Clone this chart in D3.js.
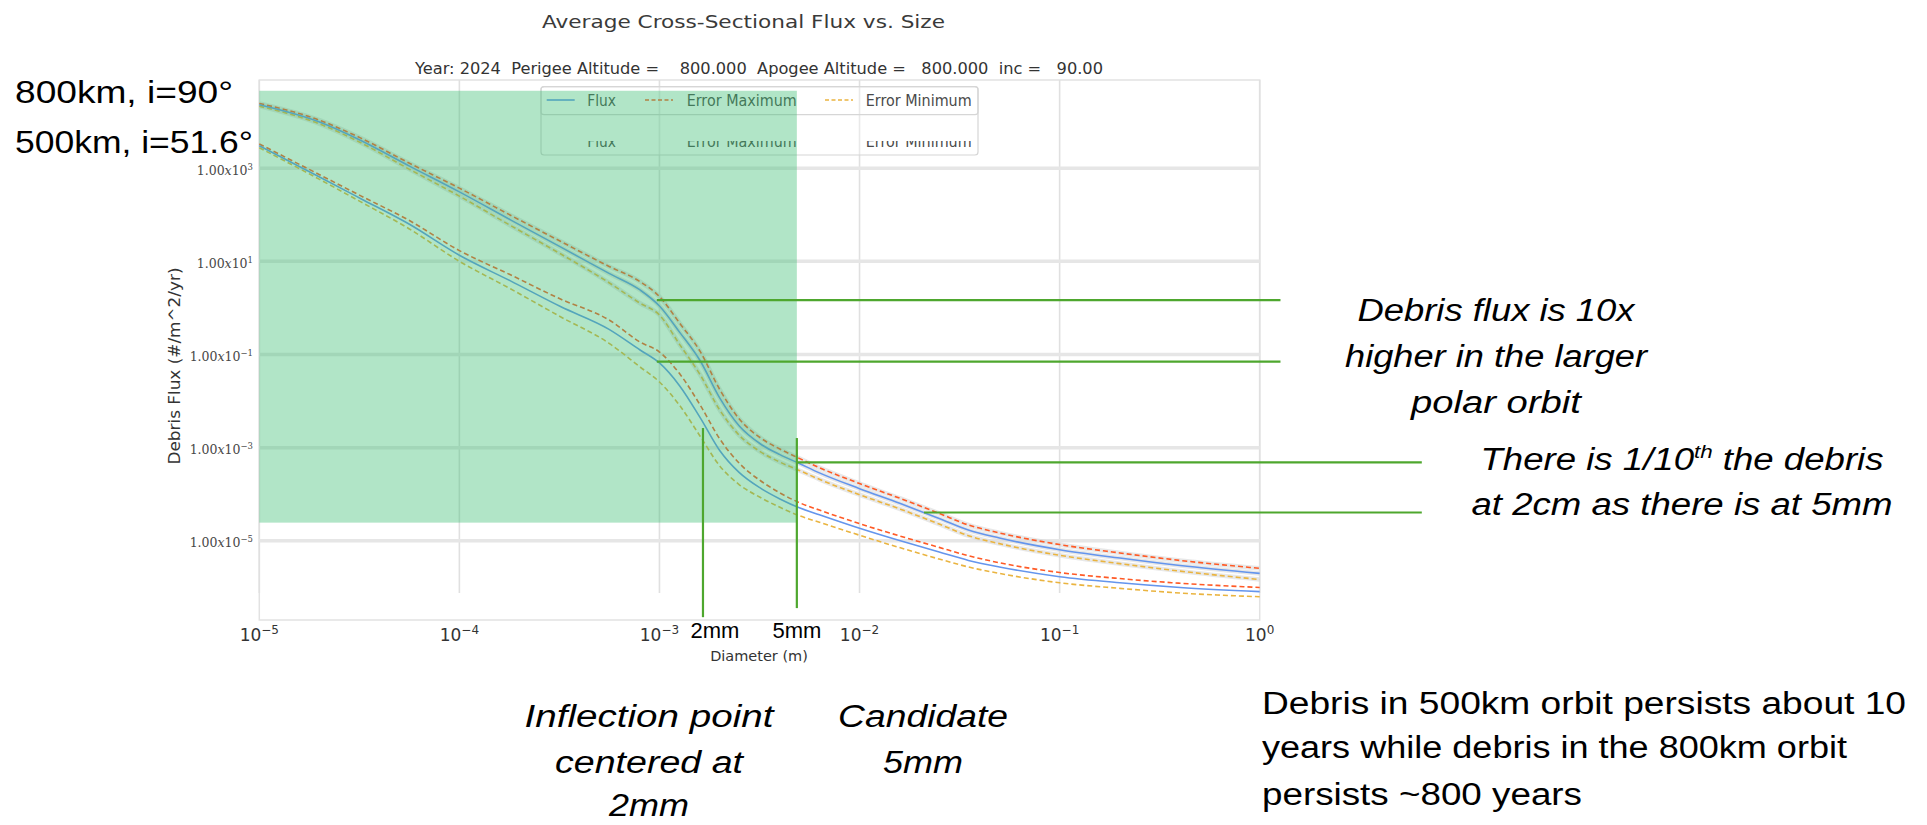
<!DOCTYPE html>
<html>
<head>
<meta charset="utf-8">
<script src="https://cdn.jsdelivr.net/npm/d3@7"></script>
<style>
  body { margin: 0; background: #fff; overflow: hidden; }
  text { white-space: pre; }
</style>
</head>
<body>
<div id="chart"></div>
<script>
// Diameters (m) and the flux (#/m^2/yr)
const diameters = [1.0e-5, 2.0e-5, 3.2e-5, 5.6e-5, 1.0e-4, 1.8e-4, 3.2e-4, 5.6e-4, 8.0e-4, 1.0e-3, 1.26e-3, 1.6e-3, 2.0e-3, 2.5e-3,
    3.2e-3, 4.0e-3, 5.0e-3, 6.3e-3, 1.0e-2, 1.6e-2, 2.5e-2, 3.5e-2, 5.0e-2, 1.0e-1, 2.0e-1, 4.0e-1, 1.0]

// 800km, i=90
const flux800 = [2.29e4, 9.77e3, 3.98e3, 1.12e3, 309, 77.6, 20.4, 5.5, 2.43, 1.10, 0.302, 0.0724, 0.0117, 2.95e-3,
    1.2e-3, 7.08e-4, 4.57e-4, 2.88e-4, 1.32e-4, 6.31e-5, 3.02e-5, 1.70e-5, 1.15e-5, 6.46e-6, 4.27e-6, 2.95e-6, 2.0e-6]
const errMax800 = [2.45e4, 1.07e4, 4.47e3, 1.29e3, 372, 97.7, 26.9, 7.76, 3.66, 1.75, 0.474, 0.115, 0.0178, 4.17e-3,
    1.62e-3, 9.33e-4, 5.89e-4, 3.72e-4, 1.70e-4, 8.13e-5, 3.89e-5, 2.19e-5, 1.48e-5, 8.32e-6, 5.50e-6, 3.80e-6, 2.57e-6]
const errMin800 = [2.14e4, 8.91e3, 3.55e3, 955, 251, 58.9, 14.5, 3.47, 1.26, 0.705, 0.165, 0.0363, 6.46e-3, 1.86e-3,
    8.13e-4, 4.90e-4, 3.24e-4, 2.09e-4, 9.77e-5, 4.79e-5, 2.29e-5, 1.29e-5, 8.71e-6, 4.90e-6, 3.24e-6, 2.24e-6, 1.48e-6]

// 500km, i=51.6
const flux500 = [3.02e3, 646, 224, 63.1, 13.5, 3.80, 1.07, 0.347, 0.125, 0.0658, 0.0214, 4.37e-3, 8.71e-4, 2.95e-4,
    1.35e-4, 7.94e-5, 5.13e-5, 3.63e-5, 1.86e-5, 1.0e-5, 5.75e-6, 3.80e-6, 2.75e-6, 1.70e-6, 1.26e-6, 1.0e-6, 8.13e-7]
const errMax500 = [3.31e3, 724, 257, 75.9, 17.0, 5.13, 1.55, 0.550, 0.185, 0.113, 0.0389, 8.13e-3, 1.55e-3, 4.68e-4,
    1.95e-4, 1.07e-4, 6.61e-5, 4.57e-5, 2.34e-5, 1.26e-5, 7.24e-6, 4.79e-6, 3.39e-6, 2.09e-6, 1.55e-6, 1.23e-6, 1.0e-6]
const errMin500 = [2.75e3, 575, 191, 50.1, 10.0, 2.57, 0.646, 0.174, 0.054, 0.0257, 8.13e-3, 1.74e-3, 4.07e-4, 1.62e-4,
    8.51e-5, 5.25e-5, 3.47e-5, 2.51e-5, 1.32e-5, 7.08e-6, 4.07e-6, 2.75e-6, 2.0e-6, 1.26e-6, 9.55e-7, 7.59e-7, 6.31e-7]

const xTicks = [1e-5, 1e-4, 1e-3, 1e-2, 1e-1, 1]
const xTickExp = ["\u22125", "\u22124", "\u22123", "\u22122", "\u22121", "0"]
const yTicks = [1e3, 1e1, 1e-1, 1e-3, 1e-5]
const yTickExp = ["3", "1", "\u22121", "\u22123", "\u22125"]

const legendNames = ["Flux", "Error Maximum", "Error Minimum"]

// annotations (data coordinates)
const shade = { x0: 1e-5, x1: 4.86e-3, y0: 2.46e-5, y1: 4.58e4 }
const annoH = [
    { x0: 9.7e-4, x1: 1.27, y: 1.47 },
    { x0: 9.7e-4, x1: 1.27, y: 0.0705 },
    { x0: 4.86e-3, x1: 6.46, y: 4.84e-4 },
    { x0: 2.1e-2, x1: 6.46, y: 4.06e-5 }
]
const annoV = [
    { x: 1.65e-3, y0: 2.64e-3, y1: 2.3e-7 },
    { x: 4.86e-3, y0: 1.61e-3, y1: 3.6e-7 }
]

const W = 1927, H = 825
const plot = { left: 259.3, right: 1259.7, top: 80, bottom: 620 }

const svg = d3.select("#chart").append("svg")
    .attr("width", W)
    .attr("height", H)
    .style("background", "#fff")

const x = d3.scaleLog().domain([1e-5, 1]).range([plot.left, plot.right])
const y = d3.scaleLog().domain([2.0e-7, 7.8e4]).range([plot.bottom, plot.top])

const chartFont = "'DejaVu Sans', sans-serif"
const slideFont = "'Liberation Sans', Arial, sans-serif"

// frame + grid
svg.append("rect")
    .attr("x", plot.left).attr("y", plot.top)
    .attr("width", plot.right - plot.left).attr("height", plot.bottom - plot.top)
    .attr("fill", "none").attr("stroke", "#e2e2e2").attr("stroke-width", 1.5)

svg.selectAll(".vgrid").data(xTicks).join("line")
    .attr("class", "vgrid")
    .attr("x1", function (d) { return x(d) }).attr("x2", function (d) { return x(d) })
    .attr("y1", plot.top).attr("y2", 593)
    .attr("stroke", "#e0e0e0").attr("stroke-width", 1.6)

svg.selectAll(".hgrid").data(yTicks).join("line")
    .attr("class", "hgrid")
    .attr("x1", plot.left).attr("x2", plot.right)
    .attr("y1", function (d) { return y(d) }).attr("y2", function (d) { return y(d) })
    .attr("stroke", "#e6e6e6").attr("stroke-width", 3.5)

// tick labels
const yLab = svg.selectAll(".ylab").data(yTicks).join("text")
    .attr("class", "ylab")
    .attr("x", 253)
    .attr("y", function (d) { return y(d) + 6.5 })
    .attr("text-anchor", "end")
    .style("font-family", "'DejaVu Serif', serif")
    .style("font-size", "12.5px")
    .style("fill", "#484848")
yLab.append("tspan").text("1.00")
yLab.append("tspan").style("font-style", "italic").text("x")
yLab.append("tspan").text("10")
yLab.append("tspan").attr("dy", -5).style("font-size", "8.5px").text(function (d, i) { return yTickExp[i] })

const xLab = svg.selectAll(".xlab").data(xTicks).join("text")
    .attr("class", "xlab")
    .attr("x", function (d) { return x(d) })
    .attr("y", 641)
    .attr("text-anchor", "middle")
    .style("font-family", chartFont)
    .style("fill", "#333")
xLab.append("tspan").style("font-size", "17px").text("10")
xLab.append("tspan").attr("dy", -7).style("font-size", "12px").text(function (d, i) { return xTickExp[i] })

svg.append("text")
    .attr("x", 759).attr("y", 661)
    .attr("text-anchor", "middle")
    .style("font-family", chartFont).style("font-size", "14.5px").style("fill", "#333")
    .text("Diameter (m)")

svg.append("text")
    .attr("transform", "translate(180,366) rotate(-90)")
    .attr("text-anchor", "middle")
    .style("font-family", chartFont).style("font-size", "15px").style("fill", "#333")
    .attr("textLength", 197).attr("lengthAdjust", "spacingAndGlyphs")
    .text("Debris Flux (#/m^2/yr)")

svg.append("text")
    .attr("x", 743.5).attr("y", 28)
    .attr("text-anchor", "middle")
    .style("font-family", chartFont).style("font-size", "18.5px").style("fill", "#3a3a3a")
    .attr("textLength", 403).attr("lengthAdjust", "spacingAndGlyphs")
    .text("Average Cross-Sectional Flux vs. Size")

svg.append("text")
    .attr("x", 415).attr("y", 74)
    .style("font-family", chartFont).style("font-size", "16px").style("fill", "#333")
    .attr("textLength", 688).attr("lengthAdjust", "spacingAndGlyphs")
    .text("Year: 2024  Perigee Altitude =    800.000  Apogee Altitude =   800.000  inc =   90.00")

// curves
const styles = {
    "Flux": { color: "#6495ed", dash: null },
    "Error Maximum": { color: "#ff5a26", dash: "5,3" },
    "Error Minimum": { color: "#eab440", dash: "5,3" }
}

const series = [
    { name: "Error Minimum", orbit: 800, values: errMin800 },
    { name: "Error Maximum", orbit: 800, values: errMax800 },
    { name: "Flux", orbit: 800, values: flux800 },
    { name: "Error Minimum", orbit: 500, values: errMin500 },
    { name: "Error Maximum", orbit: 500, values: errMax500 },
    { name: "Flux", orbit: 500, values: flux500 }
]

const line = d3.line()
    .x(function (d, i) { return x(diameters[i]) })
    .y(function (d) { return y(d) })
    .curve(d3.curveMonotoneX)

// light halo on the 800km lines
svg.selectAll(".halo").data(series.filter(function (s) { return s.orbit === 800 })).join("path")
    .attr("class", "halo")
    .attr("d", function (s) { return line(s.values) })
    .attr("fill", "none")
    .attr("stroke", "#d9d9d9").attr("stroke-width", 4.5).attr("opacity", 0.6)

svg.selectAll(".series").data(series).join("path")
    .attr("class", "series")
    .attr("d", function (s) { return line(s.values) })
    .attr("fill", "none")
    .attr("stroke", function (s) { return styles[s.name].color })
    .attr("stroke-width", 1.6)
    .attr("stroke-dasharray", function (s) { return styles[s.name].dash })

// legend
const legX = [546.7, 645, 825]
const legTextX = [587.3, 686.7, 865.7]
const legTextW = [28.7, 110, 106]
const legend = svg.append("g")

legend.append("rect")
    .attr("x", 541).attr("y", 86.7).attr("width", 437).attr("height", 68.3).attr("rx", 3)
    .attr("fill", "#fff").attr("fill-opacity", 0.3).attr("stroke", "#d6d6d6").attr("stroke-width", 1.2)
legend.append("rect")
    .attr("x", 541).attr("y", 86.7).attr("width", 437).attr("height", 28).attr("rx", 3)
    .attr("fill", "none").attr("stroke", "#d6d6d6").attr("stroke-width", 1.2)

legend.selectAll(".legline").data(legendNames).join("line")
    .attr("x1", function (d, i) { return legX[i] })
    .attr("x2", function (d, i) { return legX[i] + 28 })
    .attr("y1", 100).attr("y2", 100)
    .attr("stroke", function (d) { return styles[d].color })
    .attr("stroke-width", 1.6)
    .attr("stroke-dasharray", function (d) { return styles[d].dash ? "4,2.5" : null })

legend.selectAll(".legtext").data(legendNames).join("text")
    .attr("x", function (d, i) { return legTextX[i] })
    .attr("y", 105.5)
    .style("font-family", chartFont).style("font-size", "15px").style("fill", "#4a4a4a")
    .attr("textLength", function (d, i) { return legTextW[i] }).attr("lengthAdjust", "spacingAndGlyphs")
    .text(function (d) { return d })

// ghost row, only its lower part shows
svg.append("clipPath").attr("id", "ghostclip")
    .append("rect").attr("x", 541).attr("y", 141).attr("width", 437).attr("height", 14)

legend.append("g").attr("clip-path", "url(#ghostclip)")
    .selectAll("text").data(legendNames).join("text")
    .attr("x", function (d, i) { return legTextX[i] })
    .attr("y", 147)
    .style("font-family", chartFont).style("font-size", "15px").style("fill", "#4a4a4a")
    .attr("textLength", function (d, i) { return legTextW[i] }).attr("lengthAdjust", "spacingAndGlyphs")
    .text(function (d) { return d })

// green shaded region
svg.append("rect")
    .attr("x", x(shade.x0)).attr("y", y(shade.y1))
    .attr("width", x(shade.x1) - x(shade.x0))
    .attr("height", y(shade.y0) - y(shade.y1))
    .attr("fill", "#3cbf73").attr("opacity", 0.4)

// annotation lines
const green = "#4ea72e"
svg.selectAll(".annoH").data(annoH).join("line")
    .attr("x1", function (d) { return x(d.x0) }).attr("x2", function (d) { return x(d.x1) })
    .attr("y1", function (d) { return y(d.y) }).attr("y2", function (d) { return y(d.y) })
    .attr("stroke", green).attr("stroke-width", 2.2)

svg.selectAll(".annoV").data(annoV).join("line")
    .attr("x1", function (d) { return x(d.x) }).attr("x2", function (d) { return x(d.x) })
    .attr("y1", function (d) { return y(d.y0) }).attr("y2", function (d) { return y(d.y1) })
    .attr("stroke", green).attr("stroke-width", 2.2)

svg.append("text").attr("x", x(annoV[0].x) + 12).attr("y", 638).attr("text-anchor", "middle")
    .style("font-family", slideFont).style("font-size", "22px").style("fill", "#000").text("2mm")
svg.append("text").attr("x", x(annoV[1].x)).attr("y", 638).attr("text-anchor", "middle")
    .style("font-family", slideFont).style("font-size", "22px").style("fill", "#000").text("5mm")

// slide text
function slideText(str, px, py, opts) {
    const t = svg.append("text")
        .attr("x", px).attr("y", py)
        .attr("text-anchor", opts.anchor || "start")
        .style("font-family", slideFont)
        .style("font-size", (opts.size || 31) + "px")
        .style("font-style", opts.italic ? "italic" : "normal")
        .style("fill", "#000")
    if (opts.width) t.attr("textLength", opts.width).attr("lengthAdjust", "spacingAndGlyphs")
    if (str !== null) t.text(str)
    return t
}

slideText("800km, i=90\u00b0", 15, 103, { size: 31, width: 218 })
slideText("500km, i=51.6\u00b0", 15, 153, { size: 31, width: 238 })

slideText("Debris flux is 10x", 1496, 321, { italic: true, anchor: "middle", width: 277 })
slideText("higher in the larger", 1496, 367, { italic: true, anchor: "middle", width: 302 })
slideText("polar orbit", 1496, 413, { italic: true, anchor: "middle", width: 170 })

const tenth = slideText(null, 1682, 470, { italic: true, anchor: "middle", width: 403 })
tenth.append("tspan").text("There is 1/10")
tenth.append("tspan").attr("dy", -12).style("font-size", "19px").text("th")
tenth.append("tspan").attr("dy", 12).text(" the debris")
slideText("at 2cm as there is at 5mm", 1682, 515, { italic: true, anchor: "middle", width: 421 })

slideText("Inflection point", 649, 727, { italic: true, anchor: "middle", width: 249 })
slideText("centered at", 649, 773, { italic: true, anchor: "middle", width: 188 })
slideText("2mm", 649, 816, { italic: true, anchor: "middle", width: 80 })
slideText("Candidate", 923, 727, { italic: true, anchor: "middle", width: 170 })
slideText("5mm", 923, 773, { italic: true, anchor: "middle", width: 80 })

slideText("Debris in 500km orbit persists about 10", 1262, 714, { width: 644 })
slideText("years while debris in the 800km orbit", 1262, 758, { width: 585 })
slideText("persists ~800 years", 1262, 805, { width: 320 })
</script>
</body>
</html>
